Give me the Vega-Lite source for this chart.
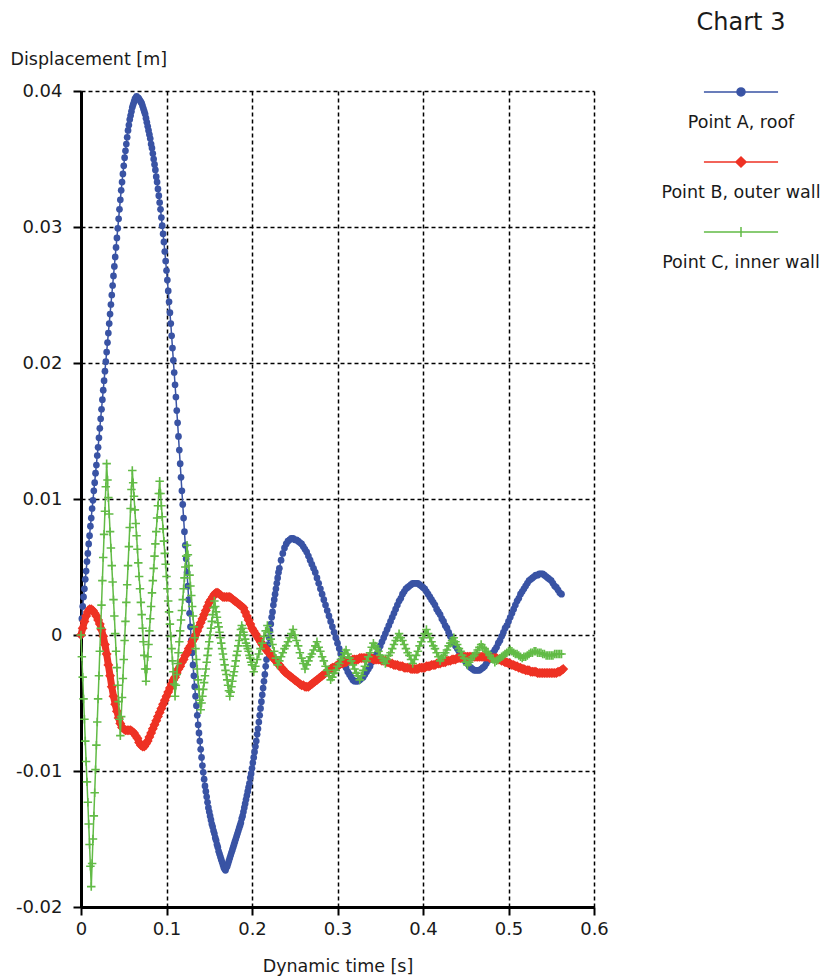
{
"$schema": "https://vega.github.io/schema/vega-lite/v6.json",
"width": 513, "height": 816,
"autosize": {"type": "none"},
"padding": {"left": 81, "top": 91, "right": 233, "bottom": 69},
"background": "white",
"title": {"text": "Chart 3", "anchor": "start", "frame": "group", "align": "center", "dx": 660, "dy": -5, "offset": 10, "font": "DejaVu Sans", "fontSize": 24, "fontWeight": "normal", "color": "#1a1a1a"},
"config": {
  "view": {"stroke": null},
  "axis": {"domainColor": "#000", "domainWidth": 3, "tickColor": "#000", "tickWidth": 2, "tickSize": 8, "grid": true, "gridColor": "#000", "gridDash": [4, 3], "gridWidth": 1.5, "labelFont": "DejaVu Sans", "labelFontSize": 18, "labelColor": "#1a1a1a", "titleFont": "DejaVu Sans", "titleFontSize": 17.5, "titleFontWeight": "normal", "titleColor": "#1a1a1a", "labelOverlap": false, "labelFlush": false}
},
"datasets": {
"A": [{"t":0,"v":0},{"t":0.002,"v":0.0021},{"t":0.004,"v":0.0034},{"t":0.006,"v":0.0047},{"t":0.008,"v":0.006},{"t":0.01,"v":0.0073},{"t":0.012,"v":0.0086},{"t":0.014,"v":0.0099},{"t":0.016,"v":0.0112},{"t":0.018,"v":0.0125},{"t":0.02,"v":0.0138},{"t":0.022,"v":0.0152},{"t":0.024,"v":0.0166},{"t":0.026,"v":0.018},{"t":0.028,"v":0.0194},{"t":0.03,"v":0.0208},{"t":0.032,"v":0.0222},{"t":0.034,"v":0.0236},{"t":0.036,"v":0.025},{"t":0.038,"v":0.0264},{"t":0.04,"v":0.0278},{"t":0.042,"v":0.0292},{"t":0.044,"v":0.0306},{"t":0.046,"v":0.032},{"t":0.048,"v":0.0333},{"t":0.05,"v":0.0345},{"t":0.052,"v":0.0356},{"t":0.054,"v":0.0366},{"t":0.056,"v":0.0375},{"t":0.058,"v":0.0382},{"t":0.06,"v":0.0388},{"t":0.062,"v":0.0392},{"t":0.064,"v":0.0395},{"t":0.066,"v":0.0395},{"t":0.068,"v":0.0394},{"t":0.07,"v":0.0392},{"t":0.072,"v":0.0389},{"t":0.074,"v":0.0385},{"t":0.076,"v":0.038},{"t":0.078,"v":0.0374},{"t":0.08,"v":0.0368},{"t":0.082,"v":0.0361},{"t":0.084,"v":0.0354},{"t":0.086,"v":0.0346},{"t":0.088,"v":0.0337},{"t":0.09,"v":0.0328},{"t":0.092,"v":0.0318},{"t":0.094,"v":0.0307},{"t":0.096,"v":0.0295},{"t":0.098,"v":0.0282},{"t":0.1,"v":0.0268},{"t":0.102,"v":0.0253},{"t":0.104,"v":0.0237},{"t":0.106,"v":0.022},{"t":0.108,"v":0.0202},{"t":0.11,"v":0.0184},{"t":0.112,"v":0.0165},{"t":0.114,"v":0.0146},{"t":0.116,"v":0.0126},{"t":0.118,"v":0.0106},{"t":0.12,"v":0.0086},{"t":0.122,"v":0.0066},{"t":0.124,"v":0.0046},{"t":0.126,"v":0.0026},{"t":0.128,"v":0.0006},{"t":0.13,"v":-0.0013},{"t":0.132,"v":-0.003},{"t":0.134,"v":-0.0045},{"t":0.136,"v":-0.0059},{"t":0.138,"v":-0.0072},{"t":0.14,"v":-0.0084},{"t":0.142,"v":-0.0096},{"t":0.144,"v":-0.0106},{"t":0.146,"v":-0.0115},{"t":0.148,"v":-0.0123},{"t":0.15,"v":-0.013},{"t":0.152,"v":-0.0136},{"t":0.154,"v":-0.0141},{"t":0.156,"v":-0.0146},{"t":0.158,"v":-0.0151},{"t":0.16,"v":-0.0156},{"t":0.162,"v":-0.0161},{"t":0.164,"v":-0.0165},{"t":0.166,"v":-0.0169},{"t":0.168,"v":-0.0172},{"t":0.17,"v":-0.0171},{"t":0.172,"v":-0.0168},{"t":0.174,"v":-0.0164},{"t":0.176,"v":-0.016},{"t":0.178,"v":-0.0156},{"t":0.18,"v":-0.0152},{"t":0.182,"v":-0.0148},{"t":0.184,"v":-0.0144},{"t":0.186,"v":-0.014},{"t":0.188,"v":-0.0135},{"t":0.19,"v":-0.013},{"t":0.192,"v":-0.0124},{"t":0.194,"v":-0.0118},{"t":0.196,"v":-0.0112},{"t":0.198,"v":-0.0105},{"t":0.2,"v":-0.0098},{"t":0.202,"v":-0.009},{"t":0.204,"v":-0.0082},{"t":0.206,"v":-0.0073},{"t":0.208,"v":-0.0064},{"t":0.21,"v":-0.0054},{"t":0.212,"v":-0.0044},{"t":0.214,"v":-0.0034},{"t":0.216,"v":-0.0023},{"t":0.218,"v":-0.0012},{"t":0.22,"v":-0.0002},{"t":0.222,"v":0.0008},{"t":0.224,"v":0.0017},{"t":0.226,"v":0.0026},{"t":0.228,"v":0.0034},{"t":0.23,"v":0.0042},{"t":0.232,"v":0.0049},{"t":0.234,"v":0.0055},{"t":0.236,"v":0.006},{"t":0.238,"v":0.0064},{"t":0.24,"v":0.0067},{"t":0.242,"v":0.0069},{"t":0.244,"v":0.007},{"t":0.246,"v":0.0071},{"t":0.248,"v":0.0071},{"t":0.25,"v":0.007},{"t":0.252,"v":0.007},{"t":0.254,"v":0.0069},{"t":0.256,"v":0.0068},{"t":0.258,"v":0.0067},{"t":0.26,"v":0.0065},{"t":0.262,"v":0.0063},{"t":0.264,"v":0.0061},{"t":0.266,"v":0.0058},{"t":0.268,"v":0.0055},{"t":0.27,"v":0.0052},{"t":0.272,"v":0.0049},{"t":0.274,"v":0.0046},{"t":0.276,"v":0.0042},{"t":0.278,"v":0.0038},{"t":0.28,"v":0.0034},{"t":0.282,"v":0.003},{"t":0.284,"v":0.0026},{"t":0.286,"v":0.0022},{"t":0.288,"v":0.0018},{"t":0.29,"v":0.0014},{"t":0.292,"v":0.001},{"t":0.294,"v":0.0006},{"t":0.296,"v":0.0002},{"t":0.298,"v":-0.0002},{"t":0.3,"v":-0.0006},{"t":0.302,"v":-0.001},{"t":0.304,"v":-0.0014},{"t":0.306,"v":-0.0018},{"t":0.308,"v":-0.0021},{"t":0.31,"v":-0.0024},{"t":0.312,"v":-0.0027},{"t":0.314,"v":-0.0029},{"t":0.316,"v":-0.0031},{"t":0.318,"v":-0.0033},{"t":0.32,"v":-0.0034},{"t":0.322,"v":-0.0034},{"t":0.324,"v":-0.0034},{"t":0.326,"v":-0.0033},{"t":0.328,"v":-0.0032},{"t":0.33,"v":-0.0031},{"t":0.332,"v":-0.0029},{"t":0.334,"v":-0.0027},{"t":0.336,"v":-0.0025},{"t":0.338,"v":-0.0023},{"t":0.34,"v":-0.002},{"t":0.342,"v":-0.0018},{"t":0.344,"v":-0.0016},{"t":0.346,"v":-0.0014},{"t":0.348,"v":-0.0011},{"t":0.35,"v":-0.0008},{"t":0.352,"v":-0.0005},{"t":0.354,"v":-0.0002},{"t":0.356,"v":0.0001},{"t":0.358,"v":0.0004},{"t":0.36,"v":0.0007},{"t":0.362,"v":0.001},{"t":0.364,"v":0.0013},{"t":0.366,"v":0.0016},{"t":0.368,"v":0.0019},{"t":0.37,"v":0.0022},{"t":0.372,"v":0.0025},{"t":0.374,"v":0.0027},{"t":0.376,"v":0.003},{"t":0.378,"v":0.0032},{"t":0.38,"v":0.0034},{"t":0.382,"v":0.0035},{"t":0.384,"v":0.0036},{"t":0.386,"v":0.0037},{"t":0.388,"v":0.0038},{"t":0.39,"v":0.0038},{"t":0.392,"v":0.0038},{"t":0.394,"v":0.0038},{"t":0.396,"v":0.0037},{"t":0.398,"v":0.0036},{"t":0.4,"v":0.0035},{"t":0.402,"v":0.0034},{"t":0.404,"v":0.0032},{"t":0.406,"v":0.003},{"t":0.408,"v":0.0028},{"t":0.41,"v":0.0026},{"t":0.412,"v":0.0024},{"t":0.414,"v":0.0022},{"t":0.416,"v":0.0019},{"t":0.418,"v":0.0017},{"t":0.42,"v":0.0015},{"t":0.422,"v":0.0012},{"t":0.424,"v":0.001},{"t":0.426,"v":0.0007},{"t":0.428,"v":0.0005},{"t":0.43,"v":0.0002},{"t":0.432,"v":-0.0001},{"t":0.434,"v":-0.0003},{"t":0.436,"v":-0.0006},{"t":0.438,"v":-0.0008},{"t":0.44,"v":-0.001},{"t":0.442,"v":-0.0012},{"t":0.444,"v":-0.0014},{"t":0.446,"v":-0.0016},{"t":0.448,"v":-0.0018},{"t":0.45,"v":-0.002},{"t":0.452,"v":-0.0021},{"t":0.454,"v":-0.0023},{"t":0.456,"v":-0.0024},{"t":0.458,"v":-0.0025},{"t":0.46,"v":-0.0026},{"t":0.462,"v":-0.0026},{"t":0.464,"v":-0.0026},{"t":0.466,"v":-0.0026},{"t":0.468,"v":-0.0025},{"t":0.47,"v":-0.0024},{"t":0.472,"v":-0.0023},{"t":0.474,"v":-0.0021},{"t":0.476,"v":-0.0019},{"t":0.478,"v":-0.0017},{"t":0.48,"v":-0.0015},{"t":0.482,"v":-0.0013},{"t":0.484,"v":-0.0011},{"t":0.486,"v":-0.0009},{"t":0.488,"v":-0.0006},{"t":0.49,"v":-0.0004},{"t":0.492,"v":-0.0001},{"t":0.494,"v":0.0002},{"t":0.496,"v":0.0005},{"t":0.498,"v":0.0007},{"t":0.5,"v":0.001},{"t":0.502,"v":0.0013},{"t":0.504,"v":0.0016},{"t":0.506,"v":0.0019},{"t":0.508,"v":0.0022},{"t":0.51,"v":0.0025},{"t":0.512,"v":0.0027},{"t":0.514,"v":0.003},{"t":0.516,"v":0.0032},{"t":0.518,"v":0.0034},{"t":0.52,"v":0.0036},{"t":0.522,"v":0.0038},{"t":0.524,"v":0.004},{"t":0.526,"v":0.0041},{"t":0.528,"v":0.0042},{"t":0.53,"v":0.0043},{"t":0.532,"v":0.0044},{"t":0.534,"v":0.0044},{"t":0.536,"v":0.0045},{"t":0.538,"v":0.0045},{"t":0.54,"v":0.0045},{"t":0.542,"v":0.0044},{"t":0.544,"v":0.0043},{"t":0.546,"v":0.0042},{"t":0.548,"v":0.0041},{"t":0.55,"v":0.004},{"t":0.552,"v":0.0038},{"t":0.554,"v":0.0036},{"t":0.556,"v":0.0035},{"t":0.558,"v":0.0033},{"t":0.56,"v":0.0031},{"t":0.562,"v":0.003},
{"t":0.001,"v":0.0012},{"t":0.003,"v":0.0028},{"t":0.005,"v":0.0041},{"t":0.007,"v":0.0054},{"t":0.009,"v":0.0067},{"t":0.011,"v":0.008},{"t":0.013,"v":0.0093},{"t":0.015,"v":0.0106},{"t":0.017,"v":0.0119},{"t":0.019,"v":0.0132},{"t":0.021,"v":0.0145},{"t":0.023,"v":0.0159},{"t":0.025,"v":0.0173},{"t":0.027,"v":0.0187},{"t":0.029,"v":0.0201},{"t":0.031,"v":0.0215},{"t":0.033,"v":0.0229},{"t":0.035,"v":0.0243},{"t":0.037,"v":0.0257},{"t":0.039,"v":0.0271},{"t":0.041,"v":0.0285},{"t":0.043,"v":0.0299},{"t":0.045,"v":0.0313},{"t":0.047,"v":0.0327},{"t":0.049,"v":0.0339},{"t":0.051,"v":0.0351},{"t":0.053,"v":0.0361},{"t":0.055,"v":0.0371},{"t":0.057,"v":0.0379},{"t":0.059,"v":0.0385},{"t":0.061,"v":0.039},{"t":0.063,"v":0.0394},{"t":0.065,"v":0.0396},{"t":0.067,"v":0.0395},{"t":0.069,"v":0.0393},{"t":0.071,"v":0.0391},{"t":0.073,"v":0.0387},{"t":0.075,"v":0.0383},{"t":0.077,"v":0.0377},{"t":0.079,"v":0.0371},{"t":0.081,"v":0.0365},{"t":0.083,"v":0.0358},{"t":0.085,"v":0.035},{"t":0.087,"v":0.0342},{"t":0.089,"v":0.0333},{"t":0.091,"v":0.0323},{"t":0.093,"v":0.0313},{"t":0.095,"v":0.0301},{"t":0.097,"v":0.0289},{"t":0.099,"v":0.0275},{"t":0.101,"v":0.0261},{"t":0.103,"v":0.0245},{"t":0.105,"v":0.0229},{"t":0.107,"v":0.0211},{"t":0.109,"v":0.0193},{"t":0.111,"v":0.0175},{"t":0.113,"v":0.0156},{"t":0.115,"v":0.0136},{"t":0.117,"v":0.0116},{"t":0.119,"v":0.0096},{"t":0.121,"v":0.0076},{"t":0.123,"v":0.0056},{"t":0.125,"v":0.0036},{"t":0.127,"v":0.0016},{"t":0.129,"v":-0.0004},{"t":0.131,"v":-0.0022},{"t":0.133,"v":-0.0038},{"t":0.135,"v":-0.0052},{"t":0.137,"v":-0.0066},{"t":0.139,"v":-0.0078},{"t":0.141,"v":-0.009},{"t":0.143,"v":-0.0101},{"t":0.145,"v":-0.0111},{"t":0.147,"v":-0.0119},{"t":0.149,"v":-0.0127},{"t":0.151,"v":-0.0133},{"t":0.153,"v":-0.0139},{"t":0.155,"v":-0.0144},{"t":0.157,"v":-0.0149},{"t":0.159,"v":-0.0154},{"t":0.161,"v":-0.0159},{"t":0.163,"v":-0.0163},{"t":0.165,"v":-0.0167},{"t":0.167,"v":-0.0171},{"t":0.169,"v":-0.0173},{"t":0.171,"v":-0.017},{"t":0.173,"v":-0.0166},{"t":0.175,"v":-0.0162},{"t":0.177,"v":-0.0158},{"t":0.179,"v":-0.0154},{"t":0.181,"v":-0.015},{"t":0.183,"v":-0.0146},{"t":0.185,"v":-0.0142},{"t":0.187,"v":-0.0138},{"t":0.189,"v":-0.0133},{"t":0.191,"v":-0.0127},{"t":0.193,"v":-0.0121},{"t":0.195,"v":-0.0115},{"t":0.197,"v":-0.0109},{"t":0.199,"v":-0.0102},{"t":0.201,"v":-0.0094},{"t":0.203,"v":-0.0086},{"t":0.205,"v":-0.0078},{"t":0.207,"v":-0.0069},{"t":0.209,"v":-0.0059},{"t":0.211,"v":-0.0049},{"t":0.213,"v":-0.0039},{"t":0.215,"v":-0.0029},{"t":0.217,"v":-0.0018},{"t":0.219,"v":-0.0007},{"t":0.221,"v":0.0003},{"t":0.223,"v":0.0013},{"t":0.225,"v":0.0022},{"t":0.227,"v":0.003},{"t":0.229,"v":0.0038},{"t":0.231,"v":0.0046}],
"B": [{"t":0,"v":0},{"t":0.002,"v":0.0005},{"t":0.004,"v":0.001},{"t":0.006,"v":0.0014},{"t":0.008,"v":0.0017},{"t":0.01,"v":0.0019},{"t":0.012,"v":0.0019},{"t":0.014,"v":0.0018},{"t":0.016,"v":0.0016},{"t":0.018,"v":0.0014},{"t":0.02,"v":0.0011},{"t":0.022,"v":0.0008},{"t":0.024,"v":0.0004},{"t":0.026,"v":-0.0001},{"t":0.028,"v":-0.0007},{"t":0.03,"v":-0.0014},{"t":0.032,"v":-0.0022},{"t":0.034,"v":-0.003},{"t":0.036,"v":-0.0038},{"t":0.038,"v":-0.0045},{"t":0.04,"v":-0.0051},{"t":0.042,"v":-0.0056},{"t":0.044,"v":-0.0061},{"t":0.046,"v":-0.0065},{"t":0.048,"v":-0.0068},{"t":0.05,"v":-0.0069},{"t":0.052,"v":-0.007},{"t":0.054,"v":-0.007},{"t":0.056,"v":-0.007},{"t":0.058,"v":-0.007},{"t":0.06,"v":-0.0071},{"t":0.062,"v":-0.0072},{"t":0.064,"v":-0.0074},{"t":0.066,"v":-0.0076},{"t":0.068,"v":-0.0079},{"t":0.07,"v":-0.0081},{"t":0.072,"v":-0.0082},{"t":0.074,"v":-0.0082},{"t":0.076,"v":-0.008},{"t":0.078,"v":-0.0078},{"t":0.08,"v":-0.0075},{"t":0.082,"v":-0.0072},{"t":0.084,"v":-0.0069},{"t":0.086,"v":-0.0066},{"t":0.088,"v":-0.0063},{"t":0.09,"v":-0.006},{"t":0.092,"v":-0.0057},{"t":0.094,"v":-0.0054},{"t":0.096,"v":-0.0051},{"t":0.098,"v":-0.0048},{"t":0.1,"v":-0.0045},{"t":0.102,"v":-0.0042},{"t":0.104,"v":-0.0039},{"t":0.106,"v":-0.0036},{"t":0.108,"v":-0.0033},{"t":0.11,"v":-0.0031},{"t":0.112,"v":-0.0028},{"t":0.114,"v":-0.0025},{"t":0.116,"v":-0.0023},{"t":0.118,"v":-0.002},{"t":0.12,"v":-0.0018},{"t":0.122,"v":-0.0015},{"t":0.124,"v":-0.0013},{"t":0.126,"v":-0.001},{"t":0.128,"v":-0.0008},{"t":0.13,"v":-0.0005},{"t":0.132,"v":-0.0003},{"t":0.134,"v":0},{"t":0.136,"v":0.0003},{"t":0.138,"v":0.0006},{"t":0.14,"v":0.0009},{"t":0.142,"v":0.0012},{"t":0.144,"v":0.0015},{"t":0.146,"v":0.0018},{"t":0.148,"v":0.0021},{"t":0.15,"v":0.0024},{"t":0.152,"v":0.0026},{"t":0.154,"v":0.0028},{"t":0.156,"v":0.003},{"t":0.158,"v":0.0031},{"t":0.16,"v":0.0031},{"t":0.162,"v":0.003},{"t":0.164,"v":0.0029},{"t":0.166,"v":0.0028},{"t":0.168,"v":0.0028},{"t":0.17,"v":0.0028},{"t":0.172,"v":0.0028},{"t":0.174,"v":0.0028},{"t":0.176,"v":0.0027},{"t":0.178,"v":0.0026},{"t":0.18,"v":0.0025},{"t":0.182,"v":0.0024},{"t":0.184,"v":0.0023},{"t":0.186,"v":0.0022},{"t":0.188,"v":0.0021},{"t":0.19,"v":0.002},{"t":0.192,"v":0.0017},{"t":0.194,"v":0.0014},{"t":0.196,"v":0.0011},{"t":0.198,"v":0.0008},{"t":0.2,"v":0.0005},{"t":0.202,"v":0.0003},{"t":0.204,"v":0.0001},{"t":0.206,"v":-0.0001},{"t":0.208,"v":-0.0003},{"t":0.21,"v":-0.0005},{"t":0.212,"v":-0.0007},{"t":0.214,"v":-0.0009},{"t":0.216,"v":-0.001},{"t":0.218,"v":-0.0012},{"t":0.22,"v":-0.0013},{"t":0.222,"v":-0.0015},{"t":0.224,"v":-0.0016},{"t":0.226,"v":-0.0018},{"t":0.228,"v":-0.0019},{"t":0.23,"v":-0.0021},{"t":0.232,"v":-0.0022},{"t":0.234,"v":-0.0024},{"t":0.236,"v":-0.0025},{"t":0.238,"v":-0.0027},{"t":0.24,"v":-0.0028},{"t":0.242,"v":-0.0029},{"t":0.244,"v":-0.003},{"t":0.246,"v":-0.0031},{"t":0.248,"v":-0.0032},{"t":0.25,"v":-0.0033},{"t":0.252,"v":-0.0034},{"t":0.254,"v":-0.0035},{"t":0.256,"v":-0.0036},{"t":0.258,"v":-0.0037},{"t":0.26,"v":-0.0037},{"t":0.262,"v":-0.0038},{"t":0.264,"v":-0.0038},{"t":0.266,"v":-0.0038},{"t":0.268,"v":-0.0037},{"t":0.27,"v":-0.0036},{"t":0.272,"v":-0.0035},{"t":0.274,"v":-0.0034},{"t":0.276,"v":-0.0033},{"t":0.278,"v":-0.0032},{"t":0.28,"v":-0.0031},{"t":0.282,"v":-0.003},{"t":0.284,"v":-0.0029},{"t":0.286,"v":-0.0028},{"t":0.288,"v":-0.0027},{"t":0.29,"v":-0.0026},{"t":0.292,"v":-0.0025},{"t":0.294,"v":-0.0024},{"t":0.296,"v":-0.0024},{"t":0.298,"v":-0.0023},{"t":0.3,"v":-0.0022},{"t":0.302,"v":-0.0022},{"t":0.304,"v":-0.0021},{"t":0.306,"v":-0.0021},{"t":0.308,"v":-0.002},{"t":0.31,"v":-0.002},{"t":0.312,"v":-0.0019},{"t":0.314,"v":-0.0019},{"t":0.316,"v":-0.0019},{"t":0.318,"v":-0.0018},{"t":0.32,"v":-0.0018},{"t":0.322,"v":-0.0018},{"t":0.324,"v":-0.0018},{"t":0.326,"v":-0.0017},{"t":0.328,"v":-0.0017},{"t":0.33,"v":-0.0017},{"t":0.332,"v":-0.0017},{"t":0.334,"v":-0.0017},{"t":0.336,"v":-0.0017},{"t":0.338,"v":-0.0017},{"t":0.34,"v":-0.0017},{"t":0.342,"v":-0.0018},{"t":0.344,"v":-0.0018},{"t":0.346,"v":-0.0018},{"t":0.348,"v":-0.0018},{"t":0.35,"v":-0.0018},{"t":0.352,"v":-0.0019},{"t":0.354,"v":-0.0019},{"t":0.356,"v":-0.0019},{"t":0.358,"v":-0.002},{"t":0.36,"v":-0.002},{"t":0.362,"v":-0.0021},{"t":0.364,"v":-0.0021},{"t":0.366,"v":-0.0022},{"t":0.368,"v":-0.0022},{"t":0.37,"v":-0.0022},{"t":0.372,"v":-0.0023},{"t":0.374,"v":-0.0023},{"t":0.376,"v":-0.0023},{"t":0.378,"v":-0.0024},{"t":0.38,"v":-0.0024},{"t":0.382,"v":-0.0024},{"t":0.384,"v":-0.0024},{"t":0.386,"v":-0.0025},{"t":0.388,"v":-0.0025},{"t":0.39,"v":-0.0025},{"t":0.392,"v":-0.0025},{"t":0.394,"v":-0.0025},{"t":0.396,"v":-0.0024},{"t":0.398,"v":-0.0024},{"t":0.4,"v":-0.0024},{"t":0.402,"v":-0.0024},{"t":0.404,"v":-0.0023},{"t":0.406,"v":-0.0023},{"t":0.408,"v":-0.0023},{"t":0.41,"v":-0.0022},{"t":0.412,"v":-0.0022},{"t":0.414,"v":-0.0022},{"t":0.416,"v":-0.0021},{"t":0.418,"v":-0.0021},{"t":0.42,"v":-0.0021},{"t":0.422,"v":-0.002},{"t":0.424,"v":-0.002},{"t":0.426,"v":-0.002},{"t":0.428,"v":-0.0019},{"t":0.43,"v":-0.0019},{"t":0.432,"v":-0.0019},{"t":0.434,"v":-0.0018},{"t":0.436,"v":-0.0018},{"t":0.438,"v":-0.0018},{"t":0.44,"v":-0.0017},{"t":0.442,"v":-0.0017},{"t":0.444,"v":-0.0017},{"t":0.446,"v":-0.0017},{"t":0.448,"v":-0.0016},{"t":0.45,"v":-0.0016},{"t":0.452,"v":-0.0016},{"t":0.454,"v":-0.0016},{"t":0.456,"v":-0.0016},{"t":0.458,"v":-0.0016},{"t":0.46,"v":-0.0016},{"t":0.462,"v":-0.0016},{"t":0.464,"v":-0.0016},{"t":0.466,"v":-0.0016},{"t":0.468,"v":-0.0016},{"t":0.47,"v":-0.0016},{"t":0.472,"v":-0.0016},{"t":0.474,"v":-0.0016},{"t":0.476,"v":-0.0016},{"t":0.478,"v":-0.0017},{"t":0.48,"v":-0.0017},{"t":0.482,"v":-0.0017},{"t":0.484,"v":-0.0017},{"t":0.486,"v":-0.0017},{"t":0.488,"v":-0.0018},{"t":0.49,"v":-0.0018},{"t":0.492,"v":-0.0019},{"t":0.494,"v":-0.0019},{"t":0.496,"v":-0.002},{"t":0.498,"v":-0.002},{"t":0.5,"v":-0.0021},{"t":0.502,"v":-0.0021},{"t":0.504,"v":-0.0022},{"t":0.506,"v":-0.0022},{"t":0.508,"v":-0.0023},{"t":0.51,"v":-0.0023},{"t":0.512,"v":-0.0024},{"t":0.514,"v":-0.0024},{"t":0.516,"v":-0.0025},{"t":0.518,"v":-0.0025},{"t":0.52,"v":-0.0026},{"t":0.522,"v":-0.0026},{"t":0.524,"v":-0.0026},{"t":0.526,"v":-0.0027},{"t":0.528,"v":-0.0027},{"t":0.53,"v":-0.0027},{"t":0.532,"v":-0.0027},{"t":0.534,"v":-0.0028},{"t":0.536,"v":-0.0028},{"t":0.538,"v":-0.0028},{"t":0.54,"v":-0.0028},{"t":0.542,"v":-0.0028},{"t":0.544,"v":-0.0028},{"t":0.546,"v":-0.0028},{"t":0.548,"v":-0.0028},{"t":0.55,"v":-0.0028},{"t":0.552,"v":-0.0028},{"t":0.554,"v":-0.0028},{"t":0.556,"v":-0.0028},{"t":0.558,"v":-0.0027},{"t":0.56,"v":-0.0027},{"t":0.562,"v":-0.0026},{"t":0.564,"v":-0.0025}],
"C": [{"t":0,"v":0},{"t":0.002,"v":-0.0031},{"t":0.004,"v":-0.0062},{"t":0.006,"v":-0.0093},{"t":0.008,"v":-0.0123},{"t":0.01,"v":-0.0154},{"t":0.012,"v":-0.0185},{"t":0.014,"v":-0.015},{"t":0.016,"v":-0.0116},{"t":0.018,"v":-0.0081},{"t":0.02,"v":-0.0047},{"t":0.022,"v":-0.0012},{"t":0.024,"v":0.0022},{"t":0.026,"v":0.0057},{"t":0.028,"v":0.0091},{"t":0.03,"v":0.0126},{"t":0.032,"v":0.0101},{"t":0.034,"v":0.0076},{"t":0.036,"v":0.0051},{"t":0.038,"v":0.0026},{"t":0.04,"v":0.0001},{"t":0.042,"v":-0.0024},{"t":0.044,"v":-0.0049},{"t":0.046,"v":-0.0074},{"t":0.048,"v":-0.0046},{"t":0.05,"v":-0.0018},{"t":0.052,"v":0.001},{"t":0.054,"v":0.0037},{"t":0.056,"v":0.0065},{"t":0.058,"v":0.0093},{"t":0.06,"v":0.0121},{"t":0.062,"v":0.0102},{"t":0.064,"v":0.0082},{"t":0.066,"v":0.0063},{"t":0.068,"v":0.0043},{"t":0.07,"v":0.0024},{"t":0.072,"v":0.0005},{"t":0.074,"v":-0.0015},{"t":0.076,"v":-0.0034},{"t":0.078,"v":-0.0016},{"t":0.08,"v":0.0003},{"t":0.082,"v":0.0021},{"t":0.084,"v":0.004},{"t":0.086,"v":0.0058},{"t":0.088,"v":0.0076},{"t":0.09,"v":0.0095},{"t":0.092,"v":0.0113},{"t":0.094,"v":0.0095},{"t":0.096,"v":0.0078},{"t":0.098,"v":0.006},{"t":0.1,"v":0.0043},{"t":0.102,"v":0.0025},{"t":0.104,"v":0.0008},{"t":0.106,"v":-0.001},{"t":0.108,"v":-0.0027},{"t":0.11,"v":-0.0045},{"t":0.112,"v":-0.0029},{"t":0.114,"v":-0.0013},{"t":0.116,"v":0.0003},{"t":0.118,"v":0.0018},{"t":0.12,"v":0.0034},{"t":0.122,"v":0.005},{"t":0.124,"v":0.0066},{"t":0.126,"v":0.0051},{"t":0.128,"v":0.0036},{"t":0.13,"v":0.0021},{"t":0.132,"v":0.0006},{"t":0.134,"v":-0.001},{"t":0.136,"v":-0.0025},{"t":0.138,"v":-0.004},{"t":0.14,"v":-0.0055},{"t":0.142,"v":-0.0045},{"t":0.144,"v":-0.0035},{"t":0.146,"v":-0.0025},{"t":0.148,"v":-0.0015},{"t":0.15,"v":-0.0005},{"t":0.152,"v":0.0005},{"t":0.154,"v":0.0015},{"t":0.156,"v":0.0025},{"t":0.158,"v":0.0017},{"t":0.16,"v":0.0009},{"t":0.162,"v":0.0002},{"t":0.164,"v":-0.0006},{"t":0.166,"v":-0.0014},{"t":0.168,"v":-0.0022},{"t":0.17,"v":-0.0029},{"t":0.172,"v":-0.0037},{"t":0.174,"v":-0.0045},{"t":0.176,"v":-0.0038},{"t":0.178,"v":-0.003},{"t":0.18,"v":-0.0023},{"t":0.182,"v":-0.0015},{"t":0.184,"v":-0.0008},{"t":0.186,"v":0},{"t":0.188,"v":0.0007},{"t":0.19,"v":0.0002},{"t":0.192,"v":-0.0003},{"t":0.194,"v":-0.0008},{"t":0.196,"v":-0.0012},{"t":0.198,"v":-0.0017},{"t":0.2,"v":-0.0022},{"t":0.202,"v":-0.0027},{"t":0.204,"v":-0.0023},{"t":0.206,"v":-0.0018},{"t":0.208,"v":-0.0014},{"t":0.21,"v":-0.001},{"t":0.212,"v":-0.0006},{"t":0.214,"v":-0.0001},{"t":0.216,"v":0.0003},{"t":0.218,"v":0.0007},{"t":0.22,"v":0.0002},{"t":0.222,"v":-0.0003},{"t":0.224,"v":-0.0007},{"t":0.226,"v":-0.0012},{"t":0.228,"v":-0.0017},{"t":0.23,"v":-0.0022},{"t":0.232,"v":-0.0019},{"t":0.234,"v":-0.0016},{"t":0.236,"v":-0.0013},{"t":0.238,"v":-0.001},{"t":0.24,"v":-0.0008},{"t":0.242,"v":-0.0005},{"t":0.244,"v":-0.0002},{"t":0.246,"v":0.0001},{"t":0.248,"v":0.0004},{"t":0.25,"v":0},{"t":0.252,"v":-0.0004},{"t":0.254,"v":-0.0008},{"t":0.256,"v":-0.0013},{"t":0.258,"v":-0.0017},{"t":0.26,"v":-0.0021},{"t":0.262,"v":-0.0025},{"t":0.264,"v":-0.0022},{"t":0.266,"v":-0.0019},{"t":0.268,"v":-0.0016},{"t":0.27,"v":-0.0014},{"t":0.272,"v":-0.0011},{"t":0.274,"v":-0.0008},{"t":0.276,"v":-0.0005},{"t":0.278,"v":-0.0009},{"t":0.28,"v":-0.0012},{"t":0.282,"v":-0.0016},{"t":0.284,"v":-0.0019},{"t":0.286,"v":-0.0023},{"t":0.288,"v":-0.0026},{"t":0.29,"v":-0.003},{"t":0.292,"v":-0.0033},{"t":0.294,"v":-0.0031},{"t":0.296,"v":-0.0028},{"t":0.298,"v":-0.0026},{"t":0.3,"v":-0.0023},{"t":0.302,"v":-0.0021},{"t":0.304,"v":-0.0018},{"t":0.306,"v":-0.0016},{"t":0.308,"v":-0.0013},{"t":0.31,"v":-0.0011},{"t":0.312,"v":-0.0014},{"t":0.314,"v":-0.0017},{"t":0.316,"v":-0.0019},{"t":0.318,"v":-0.0022},{"t":0.32,"v":-0.0025},{"t":0.322,"v":-0.0028},{"t":0.324,"v":-0.003},{"t":0.326,"v":-0.0033},{"t":0.328,"v":-0.003},{"t":0.33,"v":-0.0026},{"t":0.332,"v":-0.0023},{"t":0.334,"v":-0.0019},{"t":0.336,"v":-0.0016},{"t":0.338,"v":-0.0013},{"t":0.34,"v":-0.0009},{"t":0.342,"v":-0.0006},{"t":0.344,"v":-0.0008},{"t":0.346,"v":-0.001},{"t":0.348,"v":-0.0012},{"t":0.35,"v":-0.0015},{"t":0.352,"v":-0.0017},{"t":0.354,"v":-0.0019},{"t":0.356,"v":-0.0021},{"t":0.358,"v":-0.0018},{"t":0.36,"v":-0.0015},{"t":0.362,"v":-0.0013},{"t":0.364,"v":-0.001},{"t":0.366,"v":-0.0007},{"t":0.368,"v":-0.0004},{"t":0.37,"v":-0.0002},{"t":0.372,"v":0.0001},{"t":0.374,"v":-0.0002},{"t":0.376,"v":-0.0004},{"t":0.378,"v":-0.0007},{"t":0.38,"v":-0.001},{"t":0.382,"v":-0.0013},{"t":0.384,"v":-0.0015},{"t":0.386,"v":-0.0018},{"t":0.388,"v":-0.0021},{"t":0.39,"v":-0.0018},{"t":0.392,"v":-0.0015},{"t":0.394,"v":-0.0012},{"t":0.396,"v":-0.0008},{"t":0.398,"v":-0.0005},{"t":0.4,"v":-0.0002},{"t":0.402,"v":0.0001},{"t":0.404,"v":0.0004},{"t":0.406,"v":0.0001},{"t":0.408,"v":-0.0002},{"t":0.41,"v":-0.0005},{"t":0.412,"v":-0.0008},{"t":0.414,"v":-0.001},{"t":0.416,"v":-0.0013},{"t":0.418,"v":-0.0016},{"t":0.42,"v":-0.0019},{"t":0.422,"v":-0.0017},{"t":0.424,"v":-0.0015},{"t":0.426,"v":-0.0013},{"t":0.428,"v":-0.0011},{"t":0.43,"v":-0.0008},{"t":0.432,"v":-0.0006},{"t":0.434,"v":-0.0004},{"t":0.436,"v":-0.0002},{"t":0.438,"v":-0.0005},{"t":0.44,"v":-0.0007},{"t":0.442,"v":-0.001},{"t":0.444,"v":-0.0012},{"t":0.446,"v":-0.0015},{"t":0.448,"v":-0.0017},{"t":0.45,"v":-0.002},{"t":0.452,"v":-0.0022},{"t":0.454,"v":-0.002},{"t":0.456,"v":-0.0018},{"t":0.458,"v":-0.0016},{"t":0.46,"v":-0.0015},{"t":0.462,"v":-0.0013},{"t":0.464,"v":-0.0011},{"t":0.466,"v":-0.0009},{"t":0.468,"v":-0.0007},{"t":0.47,"v":-0.0009},{"t":0.472,"v":-0.001},{"t":0.474,"v":-0.0012},{"t":0.476,"v":-0.0013},{"t":0.478,"v":-0.0015},{"t":0.48,"v":-0.0017},{"t":0.482,"v":-0.0018},{"t":0.484,"v":-0.002},{"t":0.486,"v":-0.0019},{"t":0.488,"v":-0.0018},{"t":0.49,"v":-0.0017},{"t":0.492,"v":-0.0016},{"t":0.494,"v":-0.0015},{"t":0.496,"v":-0.0014},{"t":0.498,"v":-0.0013},{"t":0.5,"v":-0.0012},{"t":0.502,"v":-0.0011},{"t":0.504,"v":-0.0012},{"t":0.506,"v":-0.0013},{"t":0.508,"v":-0.0014},{"t":0.51,"v":-0.0014},{"t":0.512,"v":-0.0015},{"t":0.514,"v":-0.0016},{"t":0.516,"v":-0.0017},{"t":0.518,"v":-0.0016},{"t":0.52,"v":-0.0016},{"t":0.522,"v":-0.0015},{"t":0.524,"v":-0.0014},{"t":0.526,"v":-0.0013},{"t":0.528,"v":-0.0013},{"t":0.53,"v":-0.0012},{"t":0.532,"v":-0.0012},{"t":0.534,"v":-0.0013},{"t":0.536,"v":-0.0013},{"t":0.538,"v":-0.0013},{"t":0.54,"v":-0.0014},{"t":0.542,"v":-0.0014},{"t":0.544,"v":-0.0015},{"t":0.546,"v":-0.0015},{"t":0.548,"v":-0.0015},{"t":0.55,"v":-0.0015},{"t":0.552,"v":-0.0015},{"t":0.554,"v":-0.0014},{"t":0.556,"v":-0.0014},{"t":0.558,"v":-0.0014},{"t":0.56,"v":-0.0014},{"t":0.562,"v":-0.0014},
{"t":0.001,"v":-0.0016},{"t":0.003,"v":-0.0047},{"t":0.005,"v":-0.0078},{"t":0.007,"v":-0.0108},{"t":0.009,"v":-0.0139},{"t":0.011,"v":-0.017},{"t":0.013,"v":-0.0168},{"t":0.015,"v":-0.0133},{"t":0.017,"v":-0.0099},{"t":0.019,"v":-0.0064},{"t":0.021,"v":-0.003},{"t":0.023,"v":0.0005},{"t":0.025,"v":0.004},{"t":0.027,"v":0.0074},{"t":0.029,"v":0.0109},{"t":0.031,"v":0.0114},{"t":0.033,"v":0.0089},{"t":0.035,"v":0.0064},{"t":0.037,"v":0.0039},{"t":0.039,"v":0.0014},{"t":0.041,"v":-0.0012},{"t":0.043,"v":-0.0037},{"t":0.045,"v":-0.0062},{"t":0.047,"v":-0.006},{"t":0.049,"v":-0.0032},{"t":0.051,"v":-0.0004},{"t":0.053,"v":0.0024},{"t":0.055,"v":0.0051},{"t":0.057,"v":0.0079},{"t":0.059,"v":0.0107},{"t":0.061,"v":0.0112},{"t":0.063,"v":0.0092},{"t":0.065,"v":0.0073},{"t":0.067,"v":0.0053},{"t":0.069,"v":0.0034},{"t":0.071,"v":0.0015},{"t":0.073,"v":-0.0005},{"t":0.075,"v":-0.0025},{"t":0.077,"v":-0.0025},{"t":0.079,"v":-0.0007},{"t":0.081,"v":0.0012},{"t":0.083,"v":0.0031},{"t":0.085,"v":0.0049},{"t":0.087,"v":0.0067},{"t":0.089,"v":0.0086},{"t":0.091,"v":0.0104},{"t":0.093,"v":0.0104},{"t":0.095,"v":0.0087},{"t":0.097,"v":0.0069},{"t":0.099,"v":0.0052},{"t":0.101,"v":0.0034},{"t":0.103,"v":0.0017},{"t":0.105,"v":-0.0001},{"t":0.107,"v":-0.0019},{"t":0.109,"v":-0.0036},{"t":0.111,"v":-0.0037},{"t":0.113,"v":-0.0021},{"t":0.115,"v":-0.0005},{"t":0.117,"v":0.0011},{"t":0.119,"v":0.0026},{"t":0.121,"v":0.0042},{"t":0.123,"v":0.0058},{"t":0.125,"v":0.0059},{"t":0.127,"v":0.0044},{"t":0.129,"v":0.0029},{"t":0.131,"v":0.0014},{"t":0.133,"v":-0.0002},{"t":0.135,"v":-0.0018},{"t":0.137,"v":-0.0033},{"t":0.139,"v":-0.0048},{"t":0.141,"v":-0.005},{"t":0.143,"v":-0.004},{"t":0.145,"v":-0.003},{"t":0.147,"v":-0.002},{"t":0.149,"v":-0.001},{"t":0.151,"v":0},{"t":0.153,"v":0.001},{"t":0.155,"v":0.002},{"t":0.157,"v":0.0021},{"t":0.159,"v":0.0013},{"t":0.161,"v":0.0006},{"t":0.163,"v":-0.0002},{"t":0.165,"v":-0.001},{"t":0.167,"v":-0.0018},{"t":0.169,"v":-0.0026},{"t":0.171,"v":-0.0033},{"t":0.173,"v":-0.0041},{"t":0.175,"v":-0.0042},{"t":0.177,"v":-0.0034},{"t":0.179,"v":-0.0027},{"t":0.181,"v":-0.0019},{"t":0.183,"v":-0.0012},{"t":0.185,"v":-0.0004},{"t":0.187,"v":0.0004},{"t":0.189,"v":0.0005},{"t":0.191,"v":0},{"t":0.193,"v":-0.0006},{"t":0.195,"v":-0.001},{"t":0.197,"v":-0.0015},{"t":0.199,"v":-0.002}]
},
"encoding": {
  "x": {"field": "t", "type": "quantitative", "scale": {"domain": [0, 0.6], "nice": false, "zero": false},
        "axis": {"title": "Dynamic time [s]", "values": [0, 0.1, 0.2, 0.3, 0.4, 0.5, 0.6], "labelExpr": "datum.value == 0 ? '0' : toString(round(datum.value*10)/10)", "labelPadding": 5, "titlePadding": 19}},
  "y": {"field": "v", "type": "quantitative", "scale": {"domain": [-0.02, 0.04], "nice": false, "zero": false},
        "axis": {"title": "Displacement [m]", "values": [-0.02, -0.01, 0, 0.01, 0.02, 0.03, 0.04], "labelExpr": "datum.value == 0 ? '0' : toString(round(datum.value*100)/100)", "labelPadding": 11, "titleAngle": 0, "titleAlign": "left", "titleBaseline": "alphabetic", "titleX": -71, "titleY": -27}}
},
"layer": [
  {"data": {"name": "A"}, "mark": {"type": "line", "strokeWidth": 1.5},
   "encoding": {"color": {"datum": "Point A, roof", "type": "nominal",
     "scale": {"domain": ["Point A, roof", "Point B, outer wall", "Point C, inner wall"], "range": ["#3953a4", "#ee3224", "#62bb46"]},
     "legend": {"title": null, "orient": "none", "legendX": 625, "legendY": -3, "padding": 0, "rowPadding": 21,
       "symbolSize": 4624, "symbolStrokeWidth": 1.5, "symbolType": "M-1.09,-0.912L1.09,-0.912",
       "labelOffset": -35, "labelAlign": "center", "labelBaseline": "middle", "labelFont": "DejaVu Sans", "labelFontSize": 17.5, "labelColor": "#1a1a1a", "labelLimit": 400,
       "encode": {"symbols": {"update": {
         "shape": {"signal": "datum.value === 'Point A, roof' ? 'M-1.09,-0.912L1.09,-0.912M0.118,-0.912A0.118,0.118,0,1,1,-0.118,-0.912A0.118,0.118,0,1,1,0.118,-0.912Z' : (datum.value === 'Point B, outer wall' ? 'M-1.09,-0.912L1.09,-0.912M0,-1.06L0.15,-0.912L0,-0.764L-0.15,-0.912Z' : 'M-1.09,-0.912L1.09,-0.912M0,-1.06L0,-0.764')"},
         "size": {"value": 4624},
         "strokeWidth": {"value": 1.5},
         "opacity": {"value": 1},
         "fill": {"signal": "scale('color', datum.value)"},
         "stroke": {"signal": "scale('color', datum.value)"}
       }}}}}}},
  {"data": {"name": "A"}, "mark": {"type": "point", "shape": "circle", "filled": true, "size": 45, "opacity": 1},
   "encoding": {"color": {"datum": "Point A, roof", "type": "nominal"}}},
  {"data": {"name": "B"}, "mark": {"type": "line", "strokeWidth": 7},
   "encoding": {"color": {"datum": "Point B, outer wall", "type": "nominal"}}},
  {"data": {"name": "B"}, "mark": {"type": "point", "shape": "diamond", "filled": true, "size": 100, "opacity": 1},
   "encoding": {"color": {"datum": "Point B, outer wall", "type": "nominal"}}},
  {"data": {"name": "C"}, "mark": {"type": "line", "strokeWidth": 1.5},
   "encoding": {"color": {"datum": "Point C, inner wall", "type": "nominal"}}},
  {"data": {"name": "C"}, "mark": {"type": "point", "shape": "M-1,0L1,0M0,-1L0,1", "filled": false, "size": 72, "strokeWidth": 1.6, "opacity": 1},
   "encoding": {"color": {"datum": "Point C, inner wall", "type": "nominal"}}}
]
}
